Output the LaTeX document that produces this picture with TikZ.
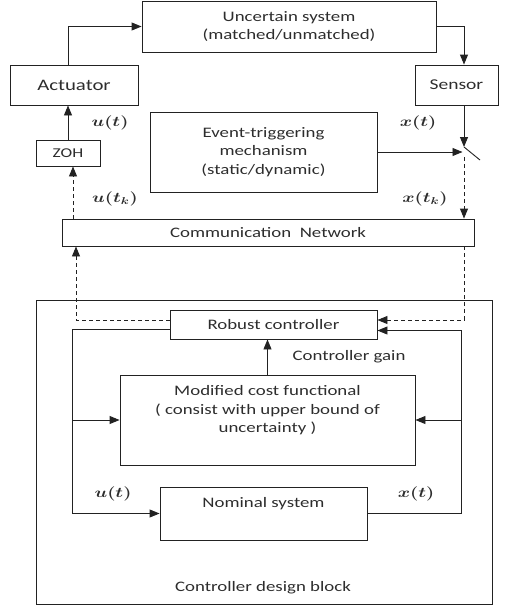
\documentclass[tikz,border=0pt]{standalone}
\usepackage{fontspec}
\setmainfont{Carlito}[FakeStretch=1.3]
\usepackage{graphicx}
\usepackage{tikz}
\usetikzlibrary{arrows.meta, positioning}
\definecolor{lnblack}{RGB}{34,34,34}
\definecolor{txtgray}{RGB}{45,45,45}
\newcommand{\sig}[1]{\scalebox{1.3}[1]{\boldmath$#1$}}

\begin{document}
\begin{tikzpicture}[x=1pt, y=-1pt,
  box/.style={draw=lnblack, line width=0.9pt, inner sep=0pt, text=txtgray, align=center, font=\fontsize{14.5}{18.5}\selectfont},
  txt/.style={text=txtgray, align=center, inner sep=0pt, font=\fontsize{14.5}{18.5}\selectfont},
  sgl/.style={text=txtgray, inner sep=0pt, font=\fontsize{14}{16}\selectfont},
  lnk/.style={draw=lnblack, line width=0.9pt},
  arr/.style={lnk, -{Triangle[length=10pt,width=8pt]}},
  dsh/.style={arr, dash pattern=on 4pt off 3pt}]
\useasboundingbox (0,0) rectangle (511,608);

% Plant side
\node[box, minimum width=294pt, minimum height=51pt] (unc) at (289,26.5) {Uncertain system\\(matched/unmatched)};
\node[box, minimum width=128pt, minimum height=40pt, font=\fontsize{16}{18}\selectfont] (act) at (74,85) {Actuator};
\node[box, minimum width=83pt, minimum height=40pt, font=\fontsize{15}{18}\selectfont] (sen) at (456.5,85) {Sensor};
\node[box, minimum width=64pt, minimum height=26pt, font=\fontsize{13.5}{16}\selectfont] (zoh) at (68,153) {ZOH};
\node[box, minimum width=227pt, minimum height=80pt] (etm) at (263.5,152) {Event-triggering\\mechanism\\(static/dynamic)};
\node[box, minimum width=412pt, minimum height=27pt] (net) at (268,232.5) {Communication~~Network};

% Controller design block
\node[box, minimum width=456pt, minimum height=304pt] (blk) at (264,452) {};
\node[txt] (blktxt) at (263,588) {Controller design block};
\node[box, minimum width=207pt, minimum height=29pt] (rob) at (273.5,324.5) {Robust controller};
\node[box, minimum width=295pt, minimum height=90pt] (mod) at (267.5,420) {};
\node[txt, below=11pt of mod.north] (modtxt) {Modified cost functional\\( consist with upper bound of\\uncertainty )};
\node[box, minimum width=207pt, minimum height=53pt] (nom) at (263.5,513.5) {};
\node[txt, below=11pt of nom.north] (nomtxt) {Nominal system};

% Signal labels
\node[sgl] (ut1) at (110,123) {\sig{u(t)}};
\node[sgl] (xt1) at (418,123) {\sig{x(t)}};
\node[sgl] (utk) at (115,199) {\sig{u(t_k)}};
\node[sgl] (xtk) at (425,199) {\sig{x(t_k)}};
\node[txt] (gain) at (349,357) {Controller gain};
\node[sgl] (ut2) at (113,494) {\sig{u(t)}};
\node[sgl] (xt2) at (416,494) {\sig{x(t)}};

% Helper points
\coordinate (swtop) at (464,147);
\coordinate (swend) at (480,160);
\coordinate (swout) at (464,157);
\coordinate (zin) at ([xshift=5pt]zoh.south);
\coordinate (dl) at (76,246);
\coordinate (rdl) at ([yshift=4.5pt]rob.west);
\coordinate (rdr) at ([yshift=4.5pt]rob.east);
\coordinate (rsl) at ([yshift=-4.5pt]rob.west);
\coordinate (rin) at ([yshift=-6pt]rob.east);
\coordinate (lx) at (72,330);
\coordinate (rx) at (461,331);

% Plant loop
\draw[arr] (zoh.north) -- (zoh.north |- act.south);
\draw[arr] (zoh.north |- act.north) |- (unc.west);
\draw[arr] (unc.east) -| (swtop |- sen.north);
\draw[arr] (swtop |- sen.south) -- (swtop);
\draw[lnk] (swtop) -- (swend);
\draw[arr, shorten >=1.5pt] (etm.east) -- (etm.east -| swtop);

% Network links
\draw[dsh] (swout) -- (swout |- net.north);
\draw[dsh] (zin |- net.north) -- (zin);
\draw[dsh] (rdl) -| (dl |- net.south);
\draw[dsh] (swout |- net.south) |- (rdr);

% Inside the block
\draw[arr] (rsl) -| (lx |- nom.west) -- (nom.west);
\draw[arr] (lx |- mod.west) -- (mod.west);
\draw[arr] (nom.east) -| (rx |- rin) -- (rin);
\draw[arr] (rx |- mod.east) -- (mod.east);
\draw[arr] (mod.north) -- (mod.north |- rob.south);
\end{tikzpicture}
\end{document}
